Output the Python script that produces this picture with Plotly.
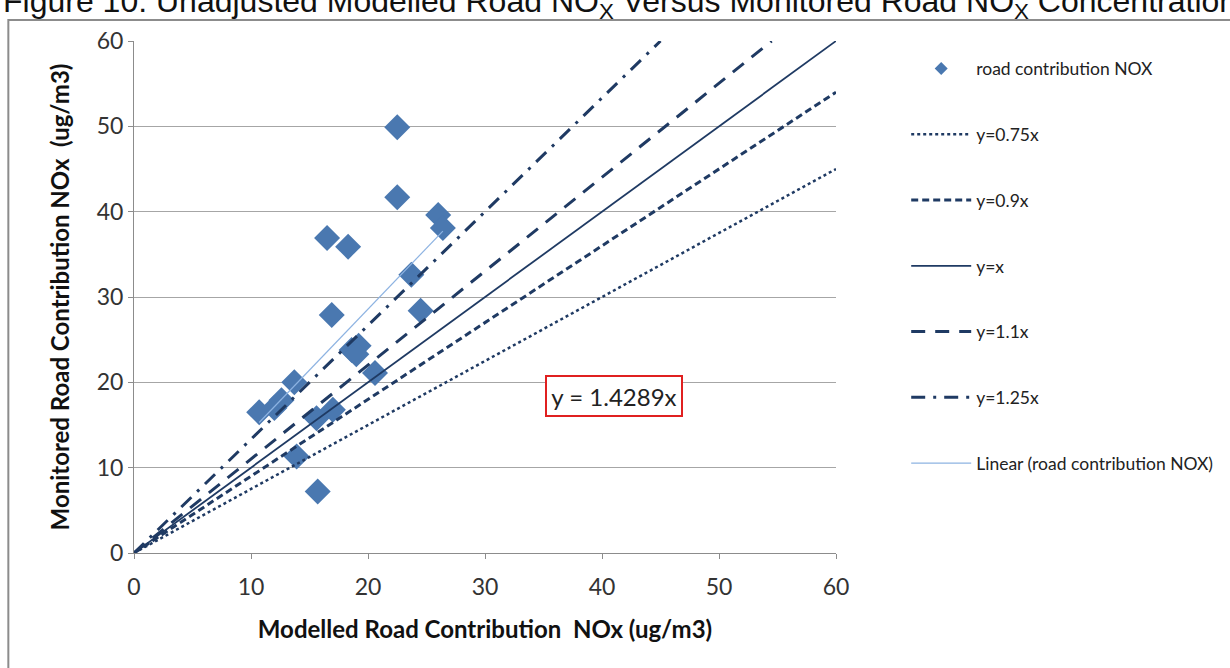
import numpy as np
import plotly.graph_objects as go

# ---- data ----
modelled = [22.5, 22.5, 26.0, 26.4, 16.5, 18.3, 23.7, 16.9, 24.5, 18.6, 19.2, 19.0,
            20.6, 13.7, 10.7, 12.0, 12.6, 15.6, 17.0, 13.9, 15.7]
monitored = [49.9, 41.7, 39.6, 38.1, 36.9, 35.9, 32.6, 27.9, 28.4, 23.8, 24.3, 23.3,
             21.1, 20.0, 16.5, 17.0, 17.9, 15.8, 16.8, 11.3, 7.2]

ref_names = ["y=0.75x", "y=0.9x", "y=x", "y=1.1x", "y=1.25x"]
ref_x_end = [60, 60, 60, 54.5, 45]
ref_y_end = [45, 54, 60, 60, 60]

trend_slope = 1.4289
trend_label = "y = 1.4289x"
axis_ticks = [0, 10, 20, 30, 40, 50, 60]

# ---- styles ----
NAVY = "#1f3a63"
BLUE = "#4a78b0"
TREND = "#8db3e2"
FONT = "Lato"
dashes = ["dot", "7px,4px", "solid", "14px,10px", "14px,8px,3px,8px"]
widths = [2.5, 3, 1.8, 3, 3]

fig = go.Figure()

fig.add_trace(go.Scatter(x=modelled, y=monitored, mode="markers",
                         marker=dict(symbol="diamond", size=20, color=BLUE),
                         showlegend=False, hoverinfo="x+y"))
fig.add_trace(go.Scatter(x=[None], y=[None], mode="markers", name="road contribution NOX",
                         marker=dict(symbol="diamond", size=10, color=BLUE),
                         legendgroup="g0"))

for i, (nm, xe, ye) in enumerate(zip(ref_names, ref_x_end, ref_y_end)):
    fig.add_trace(go.Scatter(x=[0, xe], y=[0, ye], mode="lines", name=nm,
                             line=dict(color=NAVY, width=widths[i], dash=dashes[i]),
                             legendgroup=f"g{i+1}"))

tx = np.array([min(modelled), max(modelled)])
fig.add_trace(go.Scatter(x=tx, y=trend_slope * tx, mode="lines",
                         name="Linear (road contribution NOX)",
                         line=dict(color=TREND, width=1.2), legendgroup="g9"))

fig.add_annotation(x=41.0, y=18.4, xref="x", yref="y", text=trend_label, showarrow=False,
                   font=dict(family=FONT, size=24, color="#222"), width=128, height=32,
                   bordercolor="#e02020", borderwidth=2, borderpad=3, bgcolor="white")

# cut-off figure title at the very top
fig.add_annotation(x=-0.19, y=1.029, xref="paper", yref="paper", xanchor="left", yanchor="bottom",
                   text="Figure 10: Unadjusted Modelled Road NO<sub>X</sub> Versus Monitored Road NO<sub>X</sub> Concentrations",
                   showarrow=False, font=dict(family="Liberation Sans", size=32, color="#111"))

# outer chart frame
fig.add_shape(type="rect", xref="paper", yref="paper", x0=-0.179, y0=-1.0, x1=2.0, y1=1.041,
              line=dict(color="#8c8c8c", width=2), layer="below")

axis_common = dict(range=[0, 60], tickvals=axis_ticks, showline=True, linecolor="#8c8c8c",
                   linewidth=1, ticks="outside", ticklen=5, tickcolor="#8c8c8c",
                   tickfont=dict(family=FONT, size=23, color="#333"), zeroline=False)

fig.update_xaxes(**axis_common, showgrid=False, ticklabelstandoff=8,
                 title=dict(text="<b>Modelled Road Contribution  NOx (ug/m3)</b>",
                            font=dict(family=FONT, size=24, color="#111"), standoff=22))
fig.update_yaxes(**axis_common, showgrid=True, gridcolor="#a6a6a6", gridwidth=1,
                 title=dict(text="<b>Monitored Road Contribution NOx  (ug/m3)</b>",
                            font=dict(family=FONT, size=24, color="#111"), standoff=20))

fig.update_layout(
    width=1230, height=668,
    margin=dict(l=134, r=392, t=41, b=115),
    plot_bgcolor="white", paper_bgcolor="white",
    legend=dict(x=1.10, y=0.981, xanchor="left", yanchor="top",
                font=dict(family=FONT, size=17.5, color="#222"),
                tracegroupgap=40, itemwidth=60, bgcolor="rgba(0,0,0,0)"),
)

fig.write_html("out.html", config={"displayModeBar": False},
               post_script="document.body.style.margin='0';")
